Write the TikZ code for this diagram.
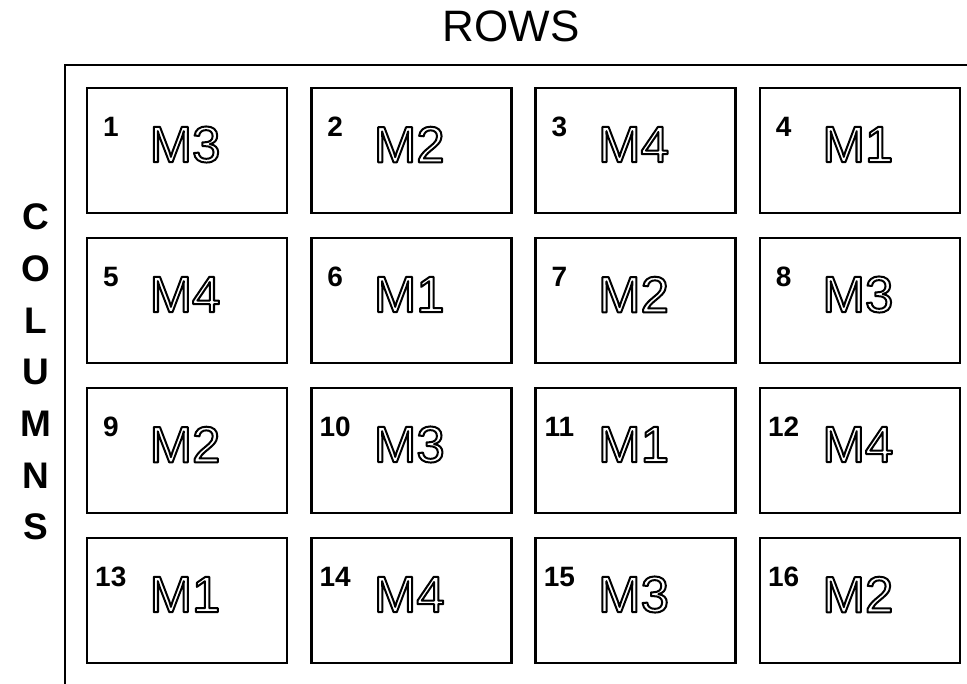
\documentclass[tikz,border=0pt]{standalone}
\usepackage{fontspec}
\setmainfont{Liberation Sans}
\usetikzlibrary{calc}
\newcommand{\hollow}[1]{\special{pdf:literal direct 1 Tr 2 w 1 j}#1\special{pdf:literal direct 0 Tr}}
\tikzset{
  cell/.style={draw=black, line width=2.4pt, minimum width=200pt, minimum height=125pt, inner sep=0pt},
  frameline/.style={draw=black, line width=2.6pt},
  numtext/.style={font=\fontsize{28}{28}\selectfont\bfseries, inner sep=0pt, anchor=center},
  mtext/.style={font=\fontsize{51}{51}\selectfont, inner sep=0pt, anchor=center},
  titletext/.style={font=\fontsize{44}{44}\selectfont, inner sep=0pt},
  sidetext/.style={font=\fontsize{37}{37}\selectfont\bfseries, inner sep=0pt}
}
\begin{document}
\begin{tikzpicture}[x=1pt,y=-1pt]
\useasboundingbox (0,0) rectangle (967,684);
% frame
\coordinate (ftop) at (967,65);
\coordinate (fcorner) at (65,65);
\coordinate (fbot) at (65,684);
\draw[frameline] (ftop) -- (fcorner) -- (fbot);
% title
\node[titletext] (rows) at (511,26) {ROWS};
% side letters
\foreach \L [count=\i from 0] in {C,O,L,U,M,N,S}{
  \node[sidetext] (side\i) at (36,217+51.7*\i) {\L};
}
% cells
\foreach \n/\m in {1/M3,2/M2,3/M4,4/M1,5/M4,6/M1,7/M2,8/M3,9/M2,10/M3,11/M1,12/M4,13/M1,14/M4,15/M3,16/M2}{
  \pgfmathtruncatemacro{\c}{mod(\n-1,4)}
  \pgfmathtruncatemacro{\r}{div(\n-1,4)}
  \node[cell] (b\n) at (187+224.3*\c, 150.5+150*\r) {};
  \node[numtext] (n\n) at ($(b\n.north west)+(25,40)$) {\n};
  \node[mtext] (m\n) at ($(b\n.center)+(-2,-6)$) {\hollow{\m}};
}
\end{tikzpicture}
\end{document}
